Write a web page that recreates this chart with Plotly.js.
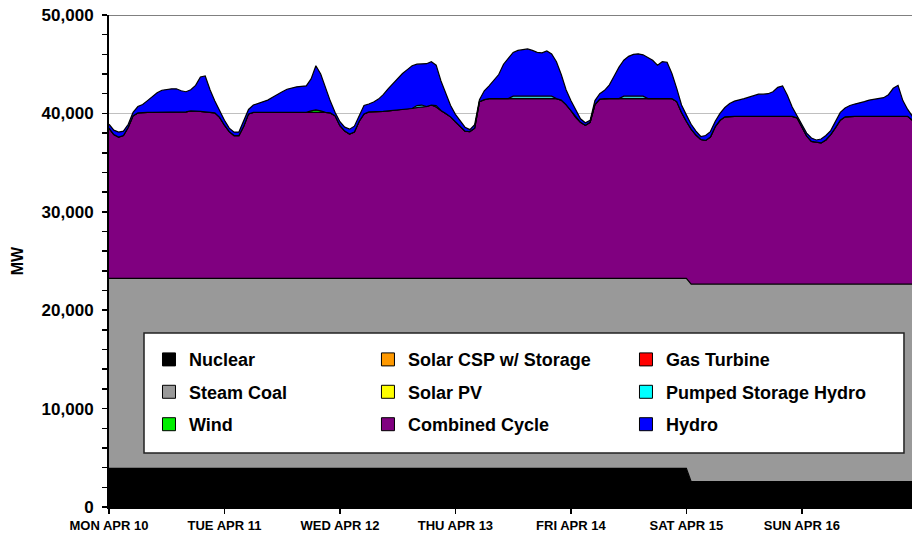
<!DOCTYPE html>
<html>
<head>
<meta charset="utf-8">
<script src="https://cdn.plot.ly/plotly-3.0.1.min.js"></script>
<style>
  html, body { margin: 0; padding: 0; background: #fff; }
  #chart { width: 912px; height: 537px; }
</style>
</head>
<body>
<div id="chart"></div>
<script>
// Hourly generation (MW), Mon Apr 10 00:00 -> Mon Apr 17 00:00, one row per day
const dayLabels = ['MON APR 10', 'TUE APR 11', 'WED APR 12', 'THU APR 13', 'FRI APR 14', 'SAT APR 15', 'SUN APR 16'];

const nuclear = [
  3930, 3930, 3930, 3930, 3930, 3930, 3930, 3930, 3930, 3930, 3930, 3930, 3930, 3930, 3930, 3930, 3930, 3930, 3930, 3930, 3930, 3930, 3930, 3930,
  3930, 3930, 3930, 3930, 3930, 3930, 3930, 3930, 3930, 3930, 3930, 3930, 3930, 3930, 3930, 3930, 3930, 3930, 3930, 3930, 3930, 3930, 3930, 3930,
  3930, 3930, 3930, 3930, 3930, 3930, 3930, 3930, 3930, 3930, 3930, 3930, 3930, 3930, 3930, 3930, 3930, 3930, 3930, 3930, 3930, 3930, 3930, 3930,
  3930, 3930, 3930, 3930, 3930, 3930, 3930, 3930, 3930, 3930, 3930, 3930, 3930, 3930, 3930, 3930, 3930, 3930, 3930, 3930, 3930, 3930, 3930, 3930,
  3930, 3930, 3930, 3930, 3930, 3930, 3930, 3930, 3930, 3930, 3930, 3930, 3930, 3930, 3930, 3930, 3930, 3930, 3930, 3930, 3930, 3930, 3930, 3930,
  3930, 2570, 2570, 2570, 2570, 2570, 2570, 2570, 2570, 2570, 2570, 2570, 2570, 2570, 2570, 2570, 2570, 2570, 2570, 2570, 2570, 2570, 2570, 2570,
  2570, 2570, 2570, 2570, 2570, 2570, 2570, 2570, 2570, 2570, 2570, 2570, 2570, 2570, 2570, 2570, 2570, 2570, 2570, 2570, 2570, 2570, 2570, 2570,
  2570
];

const steamCoal = [
  19310, 19310, 19310, 19310, 19310, 19310, 19310, 19310, 19310, 19310, 19310, 19310, 19310, 19310, 19310, 19310, 19310, 19310, 19310, 19310, 19310, 19310, 19310, 19310,
  19310, 19310, 19310, 19310, 19310, 19310, 19310, 19310, 19310, 19310, 19310, 19310, 19310, 19310, 19310, 19310, 19310, 19310, 19310, 19310, 19310, 19310, 19310, 19310,
  19310, 19310, 19310, 19310, 19310, 19310, 19310, 19310, 19310, 19310, 19310, 19310, 19310, 19310, 19310, 19310, 19310, 19310, 19310, 19310, 19310, 19310, 19310, 19310,
  19310, 19310, 19310, 19310, 19310, 19310, 19310, 19310, 19310, 19310, 19310, 19310, 19310, 19310, 19310, 19310, 19310, 19310, 19310, 19310, 19310, 19310, 19310, 19310,
  19310, 19310, 19310, 19310, 19310, 19310, 19310, 19310, 19310, 19310, 19310, 19310, 19310, 19310, 19310, 19310, 19310, 19310, 19310, 19310, 19310, 19310, 19310, 19310,
  19310, 20090, 20090, 20090, 20090, 20090, 20090, 20090, 20090, 20090, 20090, 20090, 20090, 20090, 20090, 20090, 20090, 20090, 20090, 20090, 20090, 20090, 20090, 20090,
  20090, 20090, 20090, 20090, 20090, 20090, 20090, 20090, 20090, 20090, 20090, 20090, 20090, 20090, 20090, 20090, 20090, 20090, 20090, 20090, 20090, 20090, 20090, 20090,
  20090
];

const combinedCycle = [
  15260, 14610, 14360, 14510, 15360, 16510, 16810, 16860, 16860, 16860, 16860, 16860, 16860, 16860, 16860, 16860, 16910, 17010, 17010, 16960, 16910, 16860, 16810, 16360,
  15560, 14910, 14510, 14510, 15460, 16710, 16860, 16860, 16860, 16860, 16860, 16860, 16860, 16860, 16860, 16860, 16860, 16860, 16860, 16860, 16910, 16860, 16810, 16510,
  15510, 14960, 14660, 14860, 15960, 16710, 16910, 16910, 16960, 16960, 17010, 17060, 17110, 17160, 17210, 17260, 17360, 17410, 17460, 17610, 17410, 17060, 16760, 16410,
  15910, 15410, 14960, 14910, 15260, 17960, 18160, 18260, 18260, 18260, 18260, 18260, 18260, 18260, 18260, 18260, 18260, 18260, 18260, 18260, 18260, 18260, 18110, 17660,
  17060, 16360, 15860, 15560, 15860, 17660, 18210, 18260, 18260, 18260, 18260, 18260, 18260, 18260, 18260, 18260, 18260, 18260, 18260, 18260, 18260, 18260, 17960, 16860,
  15960, 15740, 15140, 14690, 14590, 14940, 15990, 16640, 16990, 17040, 17040, 17040, 17040, 17040, 17040, 17040, 17040, 17040, 17040, 17040, 17040, 17040, 17040, 16890,
  16040, 15040, 14490, 14390, 14340, 14640, 15190, 15890, 16640, 16990, 17040, 17040, 17040, 17040, 17040, 17040, 17040, 17040, 17040, 17040, 17040, 17040, 17040, 16640,
  16240
];

const wind = [
  0, 0, 0, 0, 0, 0, 0, 0, 0, 0, 0, 0, 0, 0, 0, 0, 0, 0, 0, 0, 0, 0, 0, 0,
  0, 0, 0, 0, 0, 0, 0, 0, 0, 0, 0, 0, 0, 0, 0, 0, 0, 0, 150, 250, 100, 0, 0, 0,
  0, 0, 0, 0, 0, 0, 0, 0, 0, 0, 0, 0, 0, 0, 0, 0, 0, 0, 0, 0, 0, 0, 0, 0,
  0, 0, 0, 0, 0, 0, 0, 0, 0, 0, 0, 0, 0, 0, 0, 0, 0, 0, 0, 0, 0, 0, 0, 0,
  0, 0, 0, 0, 0, 0, 0, 0, 0, 0, 0, 0, 0, 0, 0, 0, 0, 0, 0, 0, 0, 0, 0, 0,
  0, 0, 0, 0, 0, 0, 0, 0, 0, 0, 0, 0, 0, 0, 0, 0, 0, 0, 0, 0, 0, 0, 0, 0,
  0, 0, 0, 0, 0, 0, 0, 0, 0, 0, 0, 0, 0, 0, 0, 0, 0, 0, 0, 0, 0, 0, 0, 0,
  0
];

const pumpedStorage = [
  0, 0, 0, 0, 0, 0, 0, 0, 0, 0, 0, 0, 0, 0, 0, 0, 0, 0, 0, 0, 0, 0, 0, 0,
  0, 0, 0, 0, 0, 0, 0, 0, 0, 0, 0, 0, 0, 0, 0, 0, 0, 0, 0, 0, 0, 0, 0, 0,
  0, 0, 0, 0, 0, 0, 0, 0, 0, 0, 0, 0, 0, 0, 0, 0, 200, 200, 0, 0, 150, 0, 0, 0,
  0, 0, 0, 0, 0, 0, 0, 0, 0, 0, 0, 0, 250, 250, 250, 250, 250, 250, 250, 250, 250, 0, 0, 0,
  0, 0, 0, 0, 0, 0, 0, 0, 0, 0, 0, 250, 250, 250, 250, 250, 0, 0, 0, 0, 0, 0, 0, 0,
  0, 0, 0, 0, 0, 0, 0, 0, 0, 0, 0, 0, 0, 0, 0, 0, 0, 0, 0, 0, 0, 0, 0, 0,
  0, 0, 0, 0, 0, 0, 0, 0, 0, 0, 0, 0, 0, 0, 0, 0, 0, 0, 0, 0, 0, 0, 0, 0,
  0
];

const hydro = [
  400, 450, 500, 450, 300, 350, 650, 800, 1200, 1650, 2000, 2250, 2350, 2400, 2400, 2200, 2050, 2150, 2600, 3500, 3650, 2300, 1200, 650,
  500, 350, 350, 350, 600, 450, 750, 900, 1050, 1250, 1550, 1850, 2100, 2350, 2500, 2600, 2650, 2700, 3250, 4500, 3750, 2500, 1200, 350,
  400, 400, 500, 600, 500, 850, 800, 1000, 1250, 1700, 2250, 2750, 3250, 3650, 4000, 4350, 4200, 4150, 4350, 4400, 4100, 3000, 2000, 1150,
  750, 600, 400, 200, 350, 200, 900, 1300, 1850, 2450, 3500, 4150, 4450, 4650, 4700, 4800, 4650, 4450, 4400, 4600, 4300, 3750, 2600, 1500,
  1000, 800, 350, 250, 200, 400, 550, 850, 1400, 2300, 3200, 3650, 4050, 4250, 4300, 4200, 4200, 3900, 3400, 3750, 3700, 2550, 1350, 750,
  650, 500, 400, 300, 500, 550, 550, 700, 950, 1300, 1550, 1650, 1800, 1950, 2100, 2250, 2250, 2300, 2500, 2950, 3100, 2150, 950, 250,
  250, 300, 350, 250, 400, 450, 400, 550, 800, 900, 1100, 1250, 1350, 1500, 1650, 1750, 1850, 1900, 2200, 2850, 3150, 1600, 700, 400,
  400
];

// hour index for each sample, and one tick per day
const hours = combinedCycle.map((_, i) => i);
const dayTicks = dayLabels.map((_, i) => i * 24);

const FONT = 'Liberation Sans, Arial, sans-serif';

function area(name, values, color) {
    return {
        x: hours,
        y: values,
        name: name,
        type: 'scatter',
        mode: 'lines',
        stackgroup: 'gen',
        fillcolor: color,
        line: { color: '#000', width: 1.2 },
        showlegend: false,
        hoverinfo: 'skip'
    };
}

// legend-only entries so the key shows square swatches in a 3x3 grid
function key(name, color, legendId) {
    return {
        x: [null],
        y: [null],
        name: name,
        type: 'scatter',
        mode: 'markers',
        legend: legendId,
        legendgroup: name,
        marker: { symbol: 'square', size: 13, color: color, line: { color: '#000', width: 1 } },
        hoverinfo: 'skip'
    };
}

const traces = [
    area('Nuclear', nuclear, '#000000'),
    area('Steam Coal', steamCoal, '#999999'),
    area('Combined Cycle', combinedCycle, '#800080'),
    area('Wind', wind, '#00ee00'),
    area('Pumped Storage Hydro', pumpedStorage, '#33cccc'),
    area('Hydro', hydro, '#0000ff'),

    key('Nuclear', '#000000', 'legend'),
    key('Steam Coal', '#999999', 'legend'),
    key('Wind', '#00ee00', 'legend'),
    key('Solar CSP w/ Storage', '#ff9900', 'legend2'),
    key('Solar PV', '#ffff00', 'legend2'),
    key('Combined Cycle', '#800080', 'legend2'),
    key('Gas Turbine', '#ff0000', 'legend3'),
    key('Pumped Storage Hydro', '#00ffff', 'legend3'),
    key('Hydro', '#0000ff', 'legend3')
];

const legendStyle = {
    bgcolor: 'rgba(0,0,0,0)',
    borderwidth: 0,
    orientation: 'v',
    traceorder: 'grouped',
    tracegroupgap: 6,
    xanchor: 'left',
    yanchor: 'top',
    y: 0.337,
    font: { family: FONT, size: 18, weight: 700, color: '#000' }
};

Plotly.newPlot('chart', traces, {
    width: 912,
    height: 537,
    margin: { l: 109, r: 0, t: 15, b: 30 },
    paper_bgcolor: '#fff',
    plot_bgcolor: '#fff',
    showlegend: true,
    hovermode: false,
    xaxis: {
        range: [0, 166.9],
        tickvals: dayTicks,
        ticktext: dayLabels,
        ticks: 'outside',
        ticklen: 5,
        tickwidth: 1.5,
        tickcolor: '#000',
        showline: true,
        linecolor: '#000',
        linewidth: 2,
        showgrid: false,
        zeroline: false,
        tickfont: { family: FONT, size: 13, weight: 700, color: '#000' }
    },
    yaxis: {
        range: [0, 50000],
        dtick: 10000,
        tickformat: ',d',
        ticks: 'outside',
        ticklen: 5,
        tickwidth: 1.5,
        tickcolor: '#000',
        ticklabelstandoff: 5,
        showline: true,
        linecolor: '#000',
        linewidth: 2,
        showgrid: true,
        gridcolor: '#c0c0c0',
        gridwidth: 1.5,
        zeroline: false,
        minor: { dtick: 2000, ticks: 'outside', ticklen: 5, tickwidth: 1.5, tickcolor: '#000', showgrid: false },
        tickfont: { family: FONT, size: 17, weight: 700, color: '#000' },
        title: { text: 'MW', standoff: 14, font: { family: FONT, size: 16, weight: 700, color: '#000' } }
    },
    legend: Object.assign({}, legendStyle, { x: 0.0498 }),
    legend2: Object.assign({}, legendStyle, { x: 0.3225 }),
    legend3: Object.assign({}, legendStyle, { x: 0.6438 }),
    shapes: [
        // top border of the plot area
        { type: 'line', xref: 'paper', yref: 'y', x0: 0, x1: 1, y0: 50000, y1: 50000,
          line: { color: '#808080', width: 2 } },
        // white key box
        { type: 'rect', xref: 'paper', yref: 'paper', x0: 0.0436, x1: 0.990, y0: 0.1098, y1: 0.3537,
          fillcolor: '#fff', line: { color: '#222', width: 1.5 }, layer: 'above' }
    ]
}, { displayModeBar: false, staticPlot: true });
</script>
</body>
</html>
